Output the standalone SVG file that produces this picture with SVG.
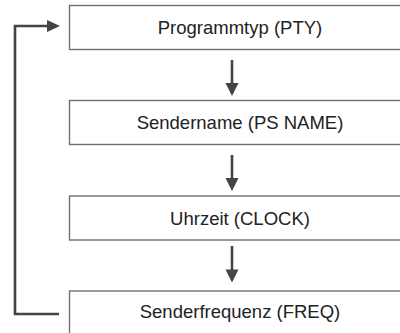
<svg xmlns="http://www.w3.org/2000/svg" width="400" height="333" viewBox="0 0 400 333">
  <defs>
    <style>
      .box { fill: #ffffff; stroke: #707070; stroke-width: 1.4; }
      .lbl { font-family: "Liberation Sans", Arial, sans-serif; font-size: 18.5px; fill: #222222; text-anchor: middle; }
      .conn { fill: none; stroke: #444444; stroke-width: 2.6; }
      .head { fill: #444444; }
    </style>
  </defs>
  <rect width="400" height="333" fill="#ffffff"/>
  <g id="node-pty">
    <rect class="box" x="69.5" y="5.5" width="340" height="44"/>
    <text class="lbl" x="240" y="34">Programmtyp (PTY)</text>
  </g>
  <g id="node-ps">
    <rect class="box" x="69.5" y="100.5" width="340" height="44"/>
    <text class="lbl" x="240" y="129">Sendername (PS NAME)</text>
  </g>
  <g id="node-clock">
    <rect class="box" x="69.5" y="196" width="340" height="44"/>
    <text class="lbl" x="240" y="224.5">Uhrzeit (CLOCK)</text>
  </g>
  <g id="node-freq">
    <rect class="box" x="69.5" y="291" width="340" height="60"/>
    <text class="lbl" x="240" y="317.5">Senderfrequenz (FREQ)</text>
  </g>
  <g id="connectors">
    <line class="conn" x1="232" y1="60" x2="232" y2="85"/>
    <polygon class="head" points="225.5,83 238.5,83 232,96"/>
    <line class="conn" x1="232" y1="155" x2="232" y2="180"/>
    <polygon class="head" points="225.5,178 238.5,178 232,191"/>
    <line class="conn" x1="232" y1="246" x2="232" y2="271"/>
    <polygon class="head" points="225.5,269.5 238.5,269.5 232,282.5"/>
    <polyline class="conn" points="59,314 15,314 15,26 49,26"/>
    <polygon class="head" points="47,20 60,26 47,32"/>
  </g>
</svg>
